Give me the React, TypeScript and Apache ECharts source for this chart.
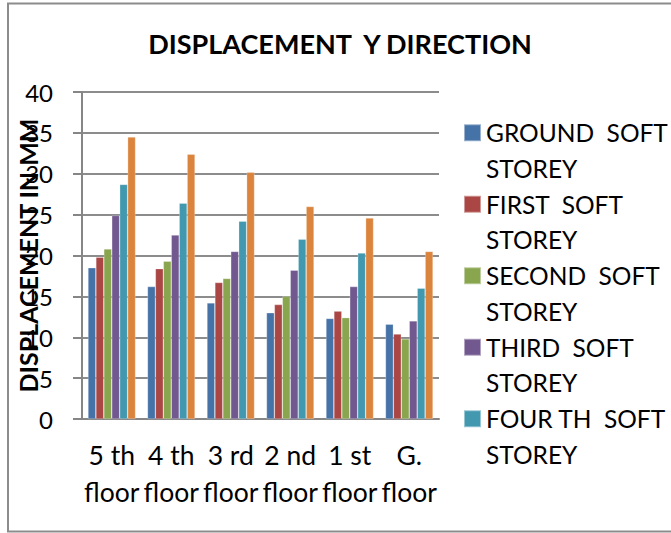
import React, { useEffect, useRef } from "react";
import * as echarts from "echarts";

const categories = ["5 th\nfloor", "4 th\nfloor", "3 rd\nfloor", "2 nd\nfloor", "1 st\nfloor", "G.\nfloor"];
const seriesNames = [
  "GROUND  SOFT STOREY",
  "FIRST  SOFT STOREY",
  "SECOND  SOFT STOREY",
  "THIRD  SOFT STOREY",
  "FOUR TH  SOFT STOREY",
  "FIFTH  SOFT STOREY",
];
const groundSoft = [18.5, 16.2, 14.2, 13.0, 12.3, 11.6];
const firstSoft = [19.8, 18.4, 16.7, 14.0, 13.2, 10.4];
const secondSoft = [20.8, 19.3, 17.2, 15.0, 12.4, 9.8];
const thirdSoft = [24.9, 22.5, 20.5, 18.2, 16.2, 12.0];
const fourthSoft = [28.7, 26.4, 24.2, 22.0, 20.3, 16.0];
const fifthSoft = [34.5, 32.4, 30.2, 26.0, 24.6, 20.5];
const yTicks = { min: 0, max: 40, interval: 5 };
const colors = ["#4572A7", "#AA4643", "#89A54E", "#71588F", "#4198AF", "#DB843D"];

const FONT = "Lato, 'Liberation Sans', sans-serif";

export default function App() {
  const ref = useRef<HTMLDivElement>(null);
  useEffect(() => {
    if (!ref.current) return;
    const chart = echarts.init(ref.current, undefined, { renderer: "svg" });
    const values = [groundSoft, firstSoft, secondSoft, thirdSoft, fourthSoft, fifthSoft];
    chart.setOption({
      animation: false,
      color: colors,
      textStyle: { fontFamily: FONT },
      title: {
        text: "DISPLACEMENT  Y DIRECTION",
        left: 335,
        top: 25,
        textAlign: "center",
        textStyle: { fontFamily: FONT, fontSize: 27, fontWeight: "bold", color: "#000" },
      },
      graphic: [
        {
          type: "rect",
          shape: { x: 8, y: 3.5, width: 700, height: 528 },
          style: { fill: "none", stroke: "#8c8c8c", lineWidth: 2 },
          silent: true,
        },
      ],
      legend: {
        data: seriesNames.slice(0, 5),
        orient: "vertical",
        left: 463,
        top: 79.5,
        padding: 0,
        itemWidth: 17,
        itemHeight: 17,
        itemGap: -35,
        icon: "rect",
        formatter: (name: string) => "\n" + name.replace(/ STOREY$/, "\nSTOREY"),
        textStyle: { fontFamily: FONT, fontSize: 24.5, lineHeight: 35.5, color: "#000" },
      },
      grid: { left: 82, top: 92, right: 232, bottom: 114, containLabel: false, outerBoundsMode: "none" },
      xAxis: {
        type: "category",
        data: categories,
        axisLine: { lineStyle: { color: "#868686", width: 2 } },
        axisTick: { show: false },
        axisLabel: {
          interval: 0,
          margin: 17,
          fontFamily: FONT,
          fontSize: 26.5,
          lineHeight: 37,
          color: "#000",
        },
      },
      yAxis: {
        type: "value",
        min: yTicks.min,
        max: yTicks.max,
        interval: yTicks.interval,
        name: "DISPLACEMENT IN MM",
        nameLocation: "middle",
        nameRotate: 90,
        nameGap: 42,
        nameMoveOverlap: false,
        nameTextStyle: { fontFamily: FONT, fontSize: 25, fontWeight: "bold", color: "#000" },
        axisLine: { show: true, lineStyle: { color: "#868686", width: 2 } },
        axisTick: { show: true, length: 9, lineStyle: { color: "#868686", width: 2 } },
        splitLine: { lineStyle: { color: "#8c8c8c", width: 2 } },
        axisLabel: { margin: 29, fontFamily: FONT, fontSize: 24, color: "#000" },
      },
      series: seriesNames.map((name, i) => ({
        name,
        type: "bar",
        data: values[i],
        barGap: "0%",
        barCategoryGap: "20%",
        itemStyle: { color: colors[i], borderColor: "rgba(255,255,255,0.45)", borderWidth: 0.6 },
      })),
    });
    return () => chart.dispose();
  }, []);
  return (
    <div
      ref={ref}
      style={{ position: "absolute", left: 0, top: 0, width: 671, height: 533, background: "#fff" }}
    />
  );
}
